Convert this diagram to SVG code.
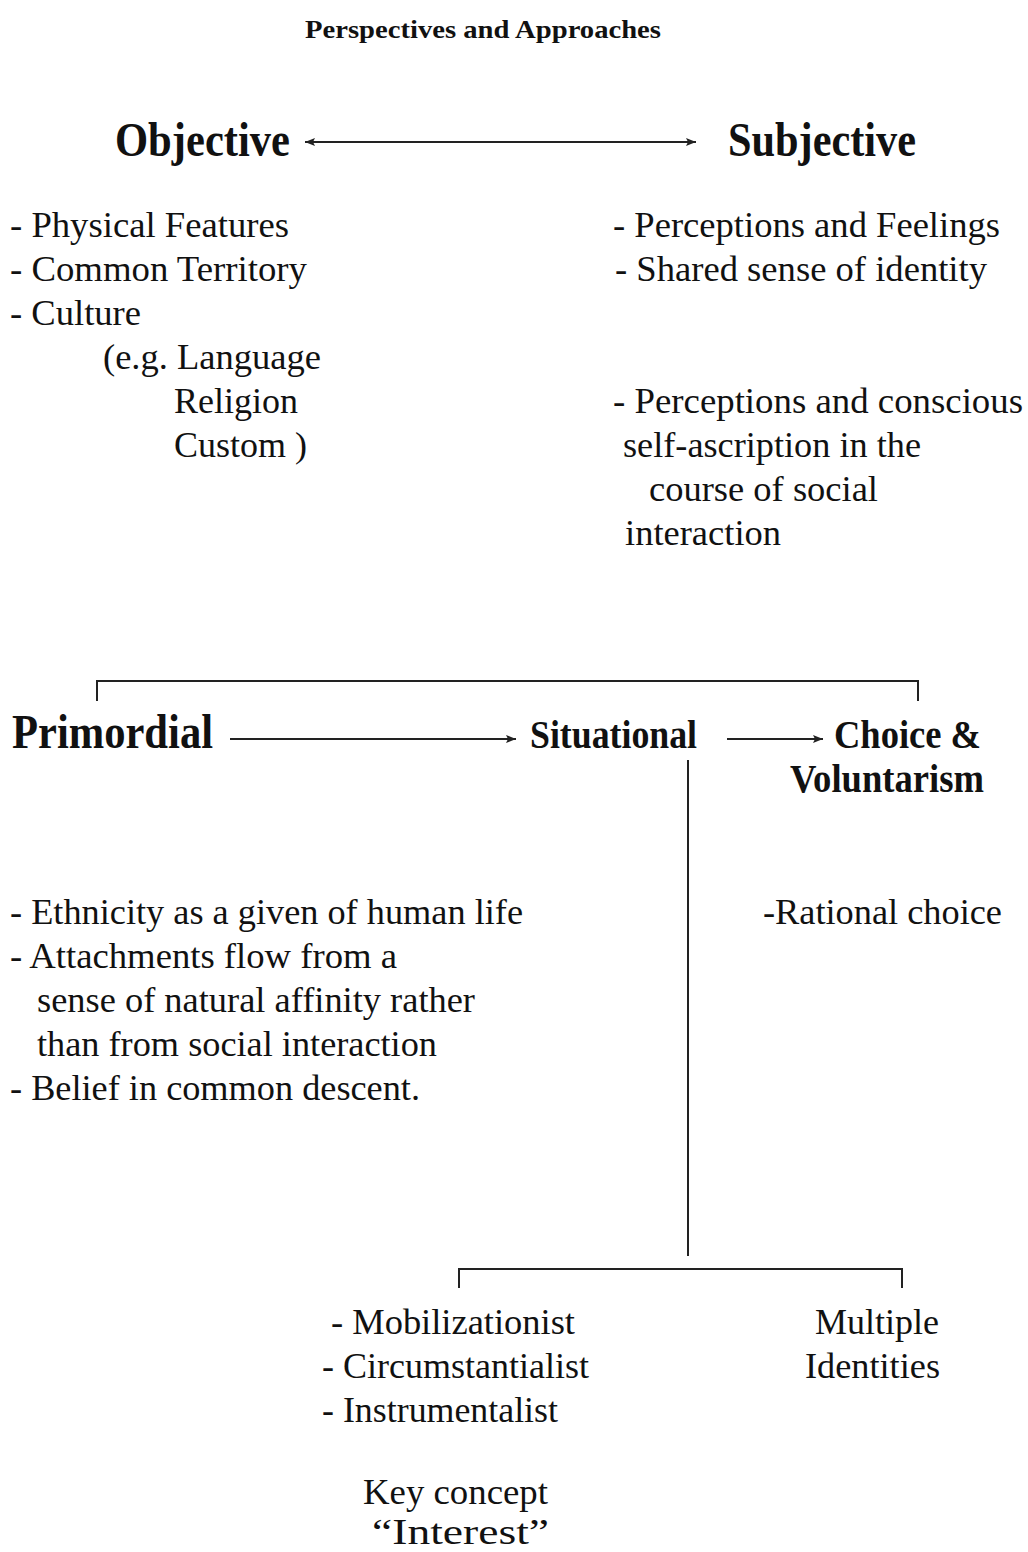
<svg xmlns="http://www.w3.org/2000/svg" width="1028" height="1552" viewBox="0 0 1028 1552">
<style>
text{font-family:"Liberation Serif","Times New Roman",serif;fill:#111}
.h{font-weight:bold;font-size:48px}
.h2{font-weight:bold;font-size:40px}
.t{font-size:36px}
.ln{stroke:#222;stroke-width:2;fill:none}
</style>
<defs>
<marker id="ah" viewBox="0 0 10 10" refX="10" refY="5" markerWidth="15" markerHeight="10" markerUnits="userSpaceOnUse" orient="auto-start-reverse">
<path d="M0,1 L10,5 L0,9 L2,5 Z" fill="#222"/>
</marker>
</defs>
<rect width="1028" height="1552" fill="#fff"/>
<text x="305" y="38" font-weight="bold" font-size="25" textLength="356" lengthAdjust="spacingAndGlyphs">Perspectives and Approaches</text>

<g id="objective"><text class="h" x="115" y="156" textLength="175" lengthAdjust="spacingAndGlyphs">Objective</text></g>
<g id="subjective"><text class="h" x="728" y="156" textLength="188" lengthAdjust="spacingAndGlyphs">Subjective</text></g>

<g id="objective-list">
<text class="t" x="10" y="237" textLength="279" lengthAdjust="spacingAndGlyphs">- Physical Features</text>
<text class="t" x="10" y="281" textLength="297" lengthAdjust="spacingAndGlyphs">- Common Territory</text>
<text class="t" x="10" y="325" textLength="131" lengthAdjust="spacingAndGlyphs">- Culture</text>
<text class="t" x="103" y="369" textLength="218" lengthAdjust="spacingAndGlyphs">(e.g. Language</text>
<text class="t" x="174" y="413" textLength="124" lengthAdjust="spacingAndGlyphs">Religion</text>
<text class="t" x="174" y="457" textLength="133" lengthAdjust="spacingAndGlyphs">Custom )</text>
</g>
<g id="subjective-list">
<text class="t" x="613" y="237" textLength="387" lengthAdjust="spacingAndGlyphs">- Perceptions and Feelings</text>
<text class="t" x="615" y="281" textLength="372" lengthAdjust="spacingAndGlyphs">- Shared sense of identity</text>
<text class="t" x="613" y="413" textLength="410" lengthAdjust="spacingAndGlyphs">- Perceptions and conscious</text>
<text class="t" x="623" y="457" textLength="298" lengthAdjust="spacingAndGlyphs">self-ascription in the</text>
<text class="t" x="649" y="501" textLength="229" lengthAdjust="spacingAndGlyphs">course of social</text>
<text class="t" x="625" y="545" textLength="156" lengthAdjust="spacingAndGlyphs">interaction</text>
</g>

<g id="primordial"><text class="h" x="12" y="748" textLength="201" lengthAdjust="spacingAndGlyphs">Primordial</text></g>
<g id="situational"><text class="h2" x="530" y="748" textLength="167" lengthAdjust="spacingAndGlyphs">Situational</text></g>
<g id="choice">
<text class="h2" x="834" y="748" textLength="147" lengthAdjust="spacingAndGlyphs">Choice &amp;</text>
<text class="h2" x="790" y="792" textLength="194" lengthAdjust="spacingAndGlyphs">Voluntarism</text>
</g>

<g id="primordial-list">
<text class="t" x="10" y="924" textLength="513" lengthAdjust="spacingAndGlyphs">- Ethnicity as a given of human life</text>
<text class="t" x="10" y="968" textLength="387" lengthAdjust="spacingAndGlyphs">- Attachments flow from a</text>
<text class="t" x="37" y="1012" textLength="438" lengthAdjust="spacingAndGlyphs">sense of natural affinity rather</text>
<text class="t" x="37" y="1056" textLength="400" lengthAdjust="spacingAndGlyphs">than from social interaction</text>
<text class="t" x="10" y="1100" textLength="410" lengthAdjust="spacingAndGlyphs">- Belief in common descent.</text>
</g>
<g id="choice-list"><text class="t" x="763" y="924" textLength="239" lengthAdjust="spacingAndGlyphs">-Rational choice</text></g>

<g id="situational-list">
<text class="t" x="331" y="1334" textLength="244" lengthAdjust="spacingAndGlyphs">- Mobilizationist</text>
<text class="t" x="322" y="1378" textLength="267" lengthAdjust="spacingAndGlyphs">- Circumstantialist</text>
<text class="t" x="322" y="1422" textLength="236" lengthAdjust="spacingAndGlyphs">- Instrumentalist</text>
</g>
<g id="multiple">
<text class="t" x="815" y="1334" textLength="124" lengthAdjust="spacingAndGlyphs">Multiple</text>
<text class="t" x="805" y="1378" textLength="135" lengthAdjust="spacingAndGlyphs">Identities</text>
</g>
<g id="key-concept">
<text class="t" x="363" y="1504" textLength="185" lengthAdjust="spacingAndGlyphs">Key concept</text>
<text class="t" x="372" y="1544" textLength="177" lengthAdjust="spacingAndGlyphs">“Interest”</text>
</g>

<g id="connectors">
<line class="ln" x1="305" y1="142" x2="696" y2="142" marker-start="url(#ah)" marker-end="url(#ah)"/>
<path class="ln" d="M97,701 V681 H918 V701"/>
<line class="ln" x1="230" y1="739" x2="516" y2="739" marker-end="url(#ah)"/>
<line class="ln" x1="727" y1="739" x2="823" y2="739" marker-end="url(#ah)"/>
<line class="ln" x1="688" y1="760" x2="688" y2="1256"/>
<path class="ln" d="M459,1288 V1269 H902 V1288"/>
</g>
</svg>
